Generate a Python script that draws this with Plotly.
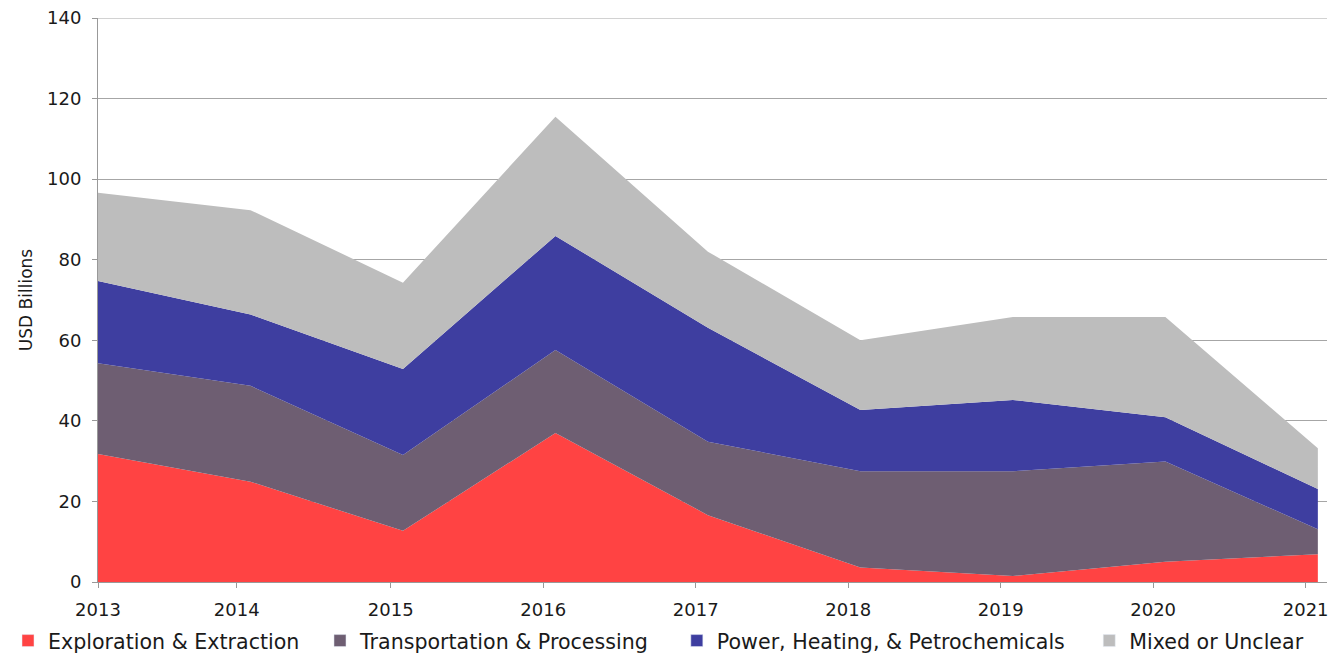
import plotly.graph_objects as go

years = ["2013", "2014", "2015", "2016", "2017", "2018", "2019", "2020", "2021"]
exploration = [31.8, 24.9, 12.7, 37.0, 16.6, 3.6, 1.5, 5.0, 6.9]
transportation = [22.5, 23.8, 18.8, 20.6, 18.2, 23.9, 26.0, 24.9, 6.2]
power = [20.4, 17.7, 21.4, 28.3, 28.3, 15.2, 17.7, 11.0, 10.0]
mixed = [21.9, 25.9, 21.4, 29.6, 18.9, 17.3, 20.6, 24.9, 10.1]

names = ["Exploration & Extraction", "Transportation & Processing",
         "Power, Heating, & Petrochemicals", "Mixed or Unclear"]
colors = ["#FF4343", "#6E5E72", "#3E3EA0", "#BDBDBD"]
series = [exploration, transportation, power, mixed]

# tick label positions (slightly offset from data points, as in the reference)
tick_pos = [0, 0.91, 1.92, 2.92, 3.92, 4.92, 5.92, 6.92, 7.92]
xpos = list(range(len(years)))
y_ticks = [0, 20, 40, 60, 80, 100, 120, 140]

# separate legend boxes so that entries sit where they do in the reference
legend_ids = ["legend", "legend2", "legend3", "legend4"]
legend_x = [-0.002, 0.233, 0.4995, 0.8075]

fig = go.Figure()
for name, col, vals in zip(names, colors, series):
    fig.add_trace(go.Scatter(
        x=xpos, y=vals, name=name, mode="lines", stackgroup="one",
        line=dict(width=0, color=col), fillcolor=col, showlegend=False,
    ))
for name, col, lid in zip(names, colors, legend_ids):
    fig.add_trace(go.Bar(x=[None], y=[None], name=name, marker_color=col,
                         showlegend=True, legend=lid))

font = "DejaVu Sans, sans-serif"
legend_layout = {}
for lid, lx in zip(legend_ids, legend_x):
    legend_layout[lid] = dict(orientation="h", xref="container", yref="container",
                              x=lx, xanchor="left", y=0.037, yanchor="middle",
                              font=dict(size=20.6), itemwidth=30,
                              bgcolor="rgba(0,0,0,0)")

# top gridline (at the upper edge of the range)
fig.add_shape(type="line", xref="paper", x0=0, x1=1, yref="y", y0=y_ticks[-1], y1=y_ticks[-1],
              line=dict(color="#A6A6A6", width=1), layer="above")

fig.update_layout(
    width=1339, height=657,
    margin=dict(l=90, r=20, t=10, b=83, autoexpand=False),
    paper_bgcolor="white", plot_bgcolor="white",
    font=dict(family=font, size=18, color="#1a1a1a"),
    showlegend=True,
    **legend_layout,
    xaxis=dict(range=[0, 8.06], tickmode="array", tickvals=tick_pos, ticktext=years,
               showgrid=False, showline=True, linecolor="#999", linewidth=1,
               ticks="outside", ticklen=5, tickcolor="#999", zeroline=False,
               automargin=False, ticklabelstandoff=6, ticklabeloverflow="allow"),
    yaxis=dict(range=[0, 140], tickmode="array", tickvals=y_ticks,
               showgrid=True, gridcolor="#A6A6A6", gridwidth=1,
               showline=True, linecolor="#999", linewidth=1, ticks="outside", ticklen=5,
               tickcolor="#999", zeroline=False, automargin=False, ticklabelstandoff=7,
               ticklabeloverflow="allow",
               title=dict(text="USD Billions", font=dict(size=17), standoff=10)),
)
fig.write_html("out.html")
